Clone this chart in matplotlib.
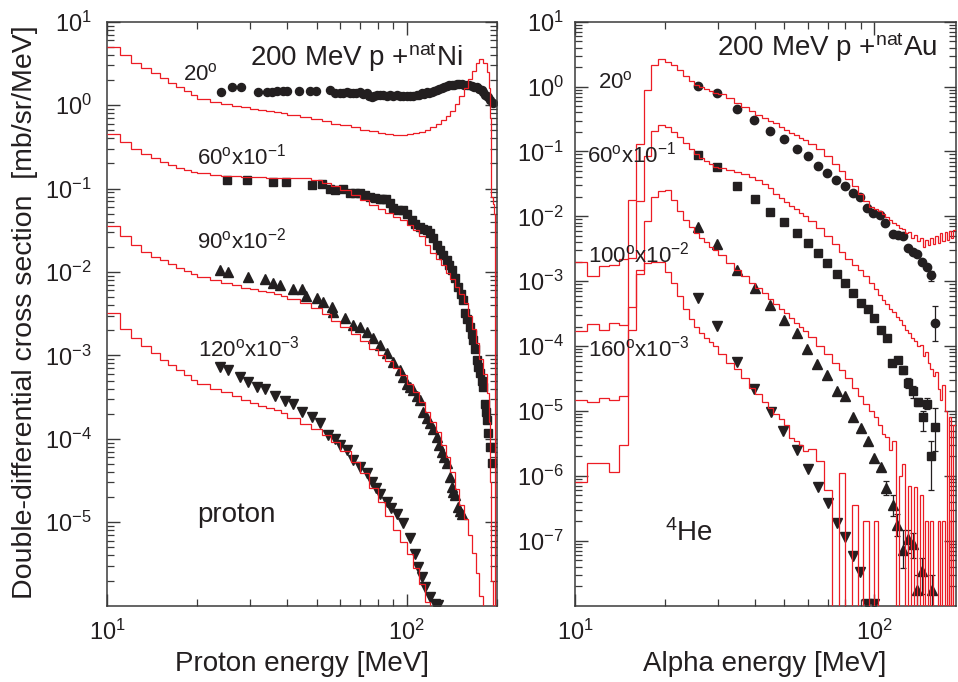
import matplotlib
matplotlib.use("Agg")
import numpy as np
import matplotlib.pyplot as plt
from matplotlib.ticker import LogLocator, FixedLocator, FixedFormatter, NullFormatter

RED = "#ec1c24"
INK = "#231f20"
AXC = "#3a3a3a"
plt.rcParams.update({
    "font.family": ["Liberation Sans", "DejaVu Sans"],
    "mathtext.fontset": "custom",
    "mathtext.rm": "Liberation Sans",
    "mathtext.it": "Liberation Sans:italic",
    "mathtext.bf": "Liberation Sans:bold",
    "text.color": INK,
    "axes.edgecolor": AXC,
    "axes.linewidth": 1.1,
    "xtick.color": AXC,
    "ytick.color": AXC,
    "xtick.labelcolor": INK,
    "ytick.labelcolor": INK,
})

# ---------------- left panel: 200 MeV p + natNi, protons ----------------
edges_left = [10, 11, 12, 13, 14, 15, 16, 17, 18, 19, 20, 22, 24, 26, 28, 30, 32, 34, 36, 38, 40,
              44, 48, 52, 56, 60, 65, 70, 75, 80, 85, 90, 95, 100, 105, 110, 115, 120, 125, 130,
              135, 140, 145, 150, 155, 160, 165, 170, 175, 180, 185, 188, 190, 192, 194, 196, 198, 200]

calc_p20 = [5.0, 4.0, 3.2, 2.75, 2.4, 2.1, 1.85, 1.65, 1.48, 1.33,
            1.17, 1.09, 1.03, 0.98, 0.94, 0.91, 0.88, 0.85, 0.82, 0.8,
            0.77, 0.73, 0.69, 0.64, 0.6,
            0.57, 0.54, 0.51, 0.485, 0.465, 0.45, 0.44, 0.437, 0.445, 0.46, 0.48, 0.51, 0.55, 0.6,
            0.66, 0.74, 0.86, 1.03, 1.28, 1.62, 2.05, 2.6, 3.2, 3.55, 3.2,
            2.5, 1.6, 0.7, 0.08, 0.065, 0.05, 1e-9]
calc_p60 = [0.45, 0.36, 0.3, 0.26, 0.23, 0.21, 0.19, 0.178, 0.168, 0.16,
            0.153, 0.147, 0.143, 0.14, 0.138, 0.137, 0.136, 0.135, 0.135, 0.135,
            0.134, 0.132, 0.127, 0.117, 0.106,
            0.096, 0.084, 0.073, 0.064, 0.057, 0.051, 0.046, 0.042, 0.037, 0.032, 0.027, 0.021,
            0.017, 0.0145, 0.012, 0.0098, 0.0083, 0.0066, 0.0054, 0.0042, 0.003, 0.0021, 0.0014,
            9e-4, 6e-4,
            3.5e-4, 1.6e-4, 3e-5, 2e-6, 1e-9, 1e-9, 1e-9]
calc_p90 = [0.036, 0.027, 0.021, 0.0175, 0.0152, 0.0138, 0.0125, 0.0113, 0.0103, 0.0095,
            0.0087, 0.008, 0.0074, 0.0069, 0.0065, 0.0062, 0.0059, 0.0057, 0.0054, 0.0051,
            0.0047, 0.0043, 0.0037, 0.0031, 0.0026,
            0.0022, 0.0018, 0.0015, 0.0012, 0.001, 8.5e-4, 7e-4, 5.8e-4, 4.6e-4, 3.6e-4, 2.8e-4,
            2.1e-4, 1.6e-4, 1.2e-4, 8.5e-5, 6e-5, 4e-5, 2.5e-5, 1.6e-5, 1.1e-5, 7e-6, 4.3e-6,
            2.5e-6, 1.3e-6, 1e-9,
            1e-9, 1e-9, 1e-9, 1e-9, 1e-9, 1e-9, 1e-9]
calc_p120 = [0.0032, 0.0021, 0.0016, 0.00128, 0.00106, 8.8e-4, 7.6e-4, 6.6e-4, 5.8e-4, 5.1e-4,
             4.5e-4, 4e-4, 3.6e-4, 3.25e-4, 2.95e-4, 2.7e-4, 2.5e-4, 2.35e-4, 2.2e-4, 2.05e-4,
             1.8e-4, 1.52e-4, 1.3e-4, 1.1e-4, 9.2e-5,
             7.2e-5, 5.3e-5, 3.9e-5, 2.6e-5, 1.75e-5, 1.2e-5, 8e-6, 5.8e-6, 4.2e-6, 2.8e-6, 1.8e-6,
             1.1e-6, 1e-9, 1e-9, 1e-9, 1e-9, 1e-9, 1e-9, 1e-9, 1e-9, 1e-9, 1e-9, 1e-9, 1e-9, 1e-9,
             1e-9, 1e-9, 1e-9, 1e-9, 1e-9, 1e-9, 1e-9]

exp_p20_e = [23.9, 26.2, 27.9, 31.9, 34.1, 35.4, 37.0, 38.5, 39.9, 43.8, 47.5, 49.8, 55.4, 57.6,
             59.9, 61.5, 63.0, 64.6, 66.3, 68.0, 69.8, 71.6, 73.5, 75.0, 76.4, 78.0, 79.4, 81.5,
             83.6, 85.7, 87.9, 90.2, 92.6, 95.0, 97.4, 100.0, 102.6, 105.3, 108.0, 110.0, 112.2,
             114.4, 116.6, 118.9, 121.2, 123.5, 125.9, 128.4, 130.9, 133.4, 136.0, 138.6, 141.3,
             144.0, 146.9, 149.7, 152.6, 155.6, 158.6, 161.7, 164.8, 168.0, 171.3, 174.7, 178.0,
             180.3, 182.6, 185.0, 187.3, 190.5, 193.7]
exp_p20_v = [1.45, 1.66, 1.63, 1.45, 1.45, 1.45, 1.48, 1.48, 1.48, 1.48, 1.48, 1.49, 1.52, 1.41,
             1.38, 1.40, 1.42, 1.40, 1.38, 1.40, 1.42, 1.36, 1.38, 1.30, 1.26, 1.30, 1.32, 1.31,
             1.32, 1.30, 1.32, 1.30, 1.32, 1.30, 1.30, 1.29, 1.29, 1.30, 1.32, 1.33, 1.38,
             1.36, 1.42, 1.40, 1.45, 1.48, 1.52, 1.55, 1.59, 1.63, 1.69, 1.72, 1.74,
             1.76, 1.79, 1.78, 1.77, 1.76, 1.74, 1.72, 1.69, 1.66, 1.63, 1.56, 1.5,
             1.42, 1.32, 1.28, 1.24, 1.15, 1.07]

exp_p60_e = [25.05, 29.2, 35.8, 39.5, 48.2, 52.0, 55.5, 57.6, 61.4, 64.7, 67.0, 69.8, 72.5, 75.4,
             78.4, 81.4, 83.0, 85.3, 87.8, 90.2, 93.5, 97.4, 100.5, 103.9, 107.0, 110.8, 113.5,
             116.7, 119.6, 122.7, 126.0, 129.2, 132.5, 136.0, 138.6, 141.3, 145.0, 148.7, 151.5,
             154.5, 156.5, 159.5, 162.7, 164.8, 166.9, 169.0, 171.3, 173.5, 175.7, 178.0, 180.3,
             182.6, 183.8, 185.0, 187.3, 189.5, 192.3]
exp_p60_v = [0.126, 0.126, 0.121, 0.121, 0.110, 0.112, 0.1, 0.096, 0.1, 0.0875, 0.088, 0.0875,
             0.083, 0.0798, 0.077, 0.0742, 0.075, 0.076, 0.068, 0.058, 0.056, 0.0553, 0.05, 0.0419,
             0.038, 0.0348, 0.033, 0.0318, 0.029, 0.0252, 0.021, 0.0183, 0.016, 0.0139, 0.012,
             0.0105, 0.0085, 0.00665, 0.0055, 0.0046, 0.00319, 0.0027, 0.0022, 0.0018, 0.00153,
             0.0012, 8.8e-4, 7.2e-4, 6.1e-4, 5e-4, 4.2e-4, 2.65e-4, 2.1e-4, 1.67e-4, 1.16e-4,
             8e-5, 5.1e-5]

exp_p90_e = [23.8, 25.4, 29.6, 33.6, 35.8, 37.9, 41.8, 44.6, 46.1, 50.1, 52.7, 56.2, 56.9, 62.2,
             66.3, 69.8, 73.5, 77.4, 81.4, 85.8, 90.2, 95.0, 97.5, 100.0, 102.6, 105.2, 108.0,
             110.8, 113.6, 116.6, 119.6, 122.7, 126.0, 128.4, 130.9, 133.4, 136.0, 139.5, 141.3,
             143.1, 145.0, 148.7, 150.7, 152.7]
exp_p90_v = [0.0107, 0.01, 0.00875, 0.00815, 0.0073, 0.00697, 0.00618, 0.00618, 0.00514, 0.00482,
             0.0044, 0.00383, 0.00333, 0.00278, 0.00231, 0.0022, 0.00192, 0.0016, 0.00133,
             0.00106, 8.4e-4, 6.7e-4, 5.5e-4, 4.6e-4, 4.2e-4, 3.8e-4, 3.3e-4, 2.9e-4, 2.1e-4,
             1.8e-4, 1.53e-4, 1.3e-4, 1.06e-4, 8.5e-5, 7e-5, 6e-5, 5.1e-5, 3.5e-5, 2.65e-5,
             2.3e-5, 2.1e-5, 1.53e-5, 1.35e-5, 1.27e-5]

exp_p120_e = [23.8, 25.4, 27.7, 29.6, 31.55, 33.6, 36.3, 39.2, 41.8, 44.6, 48.2, 51.3, 54.7, 57.6,
              59.9, 63.0, 66.3, 69.8, 73.5, 76.4, 78.8, 81.4, 85.8, 88.9, 92.6, 97.4, 102.6, 106.6,
              109.3, 112.2, 115.1, 119.6, 124.3, 127.5]
exp_p120_v = [7.3e-4, 6.7e-4, 5.5e-4, 4.8e-4, 4.2e-4, 4.0e-4, 3.3e-4, 2.85e-4, 2.65e-4, 2.1e-4,
              1.84e-4, 1.53e-4, 1.1e-4, 1.0e-4, 8.4e-5, 7.3e-5, 5.6e-5, 4.6e-5, 3.85e-5, 3.05e-5,
              2.6e-5, 2.2e-5, 1.76e-5, 1.5e-5, 1.27e-5, 9.7e-6, 6.4e-6, 4.2e-6, 2.9e-6, 2.2e-6,
              1.68e-6, 1.27e-6, 1.06e-6, 1.02e-6]

# ---------------- right panel: 200 MeV p + natAu, alphas ----------------
edges_right = ([10, 11, 12, 13, 14, 15, 16, 17, 18, 19, 20, 21, 22, 23, 24, 25, 26, 27, 28, 29, 30,
                32, 34, 36, 38, 40, 42, 44, 46, 48, 50, 52, 54, 56, 58, 60,
                64, 68, 72, 76, 80, 84, 88, 92, 96, 100,
                103, 106, 109, 112, 115, 118, 121, 124, 127, 130, 133, 136, 139, 142, 145, 148,
                151, 154, 157, 160, 163, 166, 169, 172, 175, 178, 181, 184, 187])

calc_a20 = [0.002, 0.0012, 0.0017, 0.0018, 0.0022, 0.018, 0.13, 0.89, 2.15, 2.64,
            2.42, 2.15, 1.8, 1.45, 1.2, 1.05, 0.97, 0.91, 0.86, 0.81,
            0.76, 0.66, 0.56, 0.48, 0.42, 0.37, 0.33, 0.3, 0.27, 0.24, 0.215, 0.195, 0.178, 0.162,
            0.15,
            0.13, 0.11, 0.085, 0.065, 0.05, 0.038, 0.029, 0.022, 0.017, 0.014,
            0.0128, 0.0122, 0.0108, 0.0098, 0.0088, 0.0078, 0.0074, 0.0066, 0.0063, 0.0056, 0.0058,
            0.0046, 0.0052, 0.0042, 0.0047, 0.0034, 0.0044, 0.0036, 0.0047, 0.0038, 0.005, 0.0039,
            0.0055, 0.0041, 0.0057, 0.0044, 0.006, 0.0046, 0.0062]
calc_a60 = [1.7e-4, 2.2e-4, 1.8e-4, 2.3e-4, 2.1e-4, 0.0023, 0.017, 0.085, 0.21, 0.26,
            0.24, 0.2, 0.165, 0.135, 0.11, 0.092, 0.08, 0.071, 0.064, 0.058,
            0.055, 0.051, 0.048, 0.045, 0.041, 0.036, 0.031, 0.027, 0.022, 0.019, 0.0165, 0.0145,
            0.0128, 0.0112, 0.01,
            0.0085, 0.0066, 0.005, 0.0037, 0.0028, 0.0022, 0.0018, 0.0015, 0.0012, 9.5e-4,
            7.5e-4, 6.2e-4, 5.2e-4, 4.4e-4, 3.8e-4, 3.3e-4, 2.8e-4, 2.5e-4, 2.1e-4, 1.8e-4, 1.6e-4,
            1.35e-4, 1.2e-4, 1.0e-4, 1.05e-4, 7e-5, 8e-5, 5.5e-5, 4.5e-5, 3.5e-5, 4e-5, 2.2e-5,
            1.5e-5, 2.5e-5, 1e-5, 1e-12, 8e-6, 1e-12, 6e-6]
calc_a100 = [1.5e-5, 1.4e-5, 1.6e-5, 1.5e-5, 1.7e-5, 1.8e-4, 0.0013, 0.0085, 0.02, 0.025,
             0.0255, 0.018, 0.012, 0.0088, 0.0068, 0.0056, 0.0047, 0.004, 0.0034, 0.003,
             0.0025, 0.0019, 0.0015, 0.0012, 9.5e-4, 8e-4, 6.5e-4, 5.4e-4, 4.5e-4, 3.8e-4, 3.2e-4,
             2.7e-4, 2.3e-4, 2e-4, 1.7e-4,
             1.4e-4, 1.0e-4, 7.5e-5, 5.5e-5, 4.3e-5, 3.2e-5, 2.3e-5, 1.7e-5, 1.3e-5, 1.0e-5,
             8e-6, 6e-6, 4.5e-6, 4e-6, 2.5e-6, 3.4e-6, 1e-12, 1e-6, 1.5e-6, 1e-12, 7e-7, 1e-12,
             6.8e-7, 1e-12, 5e-7, 1e-12, 2e-7, 1e-12, 2e-7, 1e-12, 1e-12, 2e-7, 1e-12, 2e-7, 1e-12,
             1e-12, 2e-7, 1e-12, 1e-12]
calc_a160 = [8e-7, 1.6e-6, 1.6e-6, 1.15e-6, 3e-6, 4e-4, 0.0015, 0.0019, 0.002, 0.002,
             0.0014, 9.5e-4, 6e-4, 3.8e-4, 2.6e-4, 2e-4, 1.6e-4, 1.35e-4, 1.15e-4, 1.0e-4,
             7.5e-5, 5.5e-5, 4.5e-5, 3.2e-5, 2.3e-5, 1.8e-5, 1.4e-5, 1.1e-5, 9e-6, 7.5e-6, 6e-6,
             3.8e-6, 3.4e-6, 3e-6, 2.4e-6,
             2.6e-6, 1.7e-6, 6e-7, 1e-12, 1.1e-6, 1e-12, 3.6e-7, 1e-12, 2e-7, 1e-12,
             2e-7, 1e-12, 1e-12, 1e-12, 1e-12, 1e-12, 1e-12, 1e-12, 1e-12, 1e-12, 1e-12, 1e-12,
             1e-12, 1e-12, 1e-12, 1e-12, 1e-12, 1e-12, 1e-12, 1e-12, 1e-12, 1e-12, 1e-12, 1e-12,
             1e-12, 1e-12, 1e-12, 1e-12, 1e-12]

exp_a20_e = [25.8, 29.9, 34.8, 39.6, 44.8, 49.9, 55.1, 59.9, 64.7, 69.7, 74.5, 79.8, 84.7, 89.5,
             94.3, 99.2, 104.5, 108.6, 115.2, 120.3, 124.4, 129.9, 134.4, 139.2, 144.0, 149.6,
             154.3, 159.5]
exp_a20_v = [1.02, 0.805, 0.447, 0.305, 0.209, 0.154, 0.109, 0.085, 0.0598, 0.0461, 0.0364,
             0.0297, 0.0227, 0.0197, 0.0133, 0.0112, 0.0105, 0.0078, 0.0054, 0.0052, 0.0049,
             0.0032, 0.00286, 0.00263, 0.002, 0.00164, 0.00125, 2.3e-4]
err_a20_e = [154.3, 159.5]
err_a20_lo = [1.0e-3, 1.2e-4]
err_a20_hi = [1.45e-3, 4.1e-4]

exp_a60_e = [25.8, 29.9, 34.8, 39.9, 44.8, 49.9, 55.1, 60.2, 64.7, 69.7, 74.9, 80.0, 85.1, 90.1,
             95.1, 99.8, 105.1, 110.0, 114.9, 119.7, 124.4, 129.9, 135.0, 140.3, 145.1, 150.4,
             154.3, 159.8]
exp_a60_v = [0.0883, 0.057, 0.0297, 0.0183, 0.0118, 0.0081, 0.0056, 0.00385, 0.0027, 0.00194,
             0.0013, 9.5e-4, 6.5e-4, 4.7e-4, 3.7e-4, 2.7e-4, 1.78e-4, 1.32e-4, 5.5e-5, 6.1e-5,
             4.3e-5, 2.7e-5, 2.0e-5, 1.4e-5, 8.2e-6, 1.29e-5, 2.0e-6, 5.6e-6]
err_a60_e = [124.4, 129.9, 135.0, 140.3, 145.1, 150.4, 154.3, 159.8]
err_a60_lo = [3.7e-5, 2.3e-5, 1.57e-5, 1.2e-5, 5e-6, 1.07e-5, 6e-7, 2.4e-6]
err_a60_hi = [5e-5, 3.2e-5, 2.4e-5, 1.6e-5, 1.0e-5, 1.6e-5, 3.4e-6, 1.1e-5]

exp_a100_e = [25.8, 29.9, 34.8, 39.9, 44.8, 49.9, 55.1, 59.7, 64.6, 69.7, 74.9, 79.7, 85.1, 90.2,
              95.1, 99.8, 105.1, 109.4, 115.2, 119.4, 125.0, 129.9, 135.0, 139.2, 144.3, 155.6]
exp_a100_v = [0.00693, 0.00376, 0.00148, 7.8e-4, 4.3e-4, 2.54e-4, 1.6e-4, 9e-5, 5.3e-5, 3.6e-5,
              2.0e-5, 1.7e-5, 8e-6, 5.4e-6, 3.4e-6, 1.88e-6, 1.39e-6, 6.5e-7, 3.6e-7, 1.76e-7,
              7.2e-8, 1.07e-7, 9e-8, 1.75e-8, 3.4e-8, 1.75e-8]
err_a100_e = [109.4, 115.2, 119.4, 125.0, 129.9, 135.0, 139.2, 144.3, 155.6]
err_a100_lo = [5e-7, 2.4e-7, 1.2e-7, 3.8e-8, 6.6e-8, 5.5e-8, 1e-9, 1.5e-8, 1e-9]
err_a100_hi = [8.5e-7, 5.1e-7, 2.6e-7, 1.47e-7, 1.47e-7, 1.3e-7, 3e-8, 5.5e-8, 3e-8]

exp_a160_e = [25.8, 29.9, 34.8, 39.6, 45.1, 49.7, 55.0, 60.1, 64.9, 70.0, 74.9, 79.7, 85.1, 89.7,
              94.9, 99.5]
exp_a160_v = [5.5e-4, 2.05e-4, 5.6e-5, 2.17e-5, 9.8e-6, 4.9e-6, 2.5e-6, 1.29e-6, 6.8e-7, 3.8e-7,
              1.89e-7, 1.14e-7, 5.9e-8, 3.3e-8, 1.08e-8, 1.05e-8]

W, H = 958, 682
fig = plt.figure(figsize=(W / 100, H / 100), dpi=100)
axL = fig.add_axes([107.3 / W, 1 - 605.7 / H, 389.4 / W, 584 / H])
axR = fig.add_axes([575 / W, 1 - 605.7 / H, 380.6 / W, 584 / H])


def style_axis(ax, xmax, ymin, ypad):
    ax.set_xscale("log")
    ax.set_yscale("log")
    ax.set_xlim(10, xmax)
    decs = np.arange(int(np.log10(ymin)) + 1, 2)
    ax.set_ylim(ymin, 10)
    ax.yaxis.set_major_locator(FixedLocator([10.0 ** k for k in decs]))
    ax.yaxis.set_major_formatter(FixedFormatter([r"$\mathdefault{10^{%d}}$" % k for k in decs]))
    ax.yaxis.set_minor_locator(LogLocator(base=10, subs=np.arange(2, 10), numticks=20))
    ax.yaxis.set_minor_formatter(NullFormatter())
    ax.xaxis.set_major_locator(FixedLocator([10, 100]))
    ax.xaxis.set_major_formatter(FixedFormatter([r"$\mathdefault{10^{1}}$", r"$\mathdefault{10^{2}}$"]))
    ax.xaxis.set_minor_locator(LogLocator(base=10, subs=np.arange(2, 10), numticks=20))
    ax.xaxis.set_minor_formatter(NullFormatter())
    ax.tick_params(which="both", direction="in", top=True, right=True, labelsize=17)
    ax.tick_params(which="major", length=9, width=1.0)
    ax.tick_params(which="minor", length=5, width=0.9)
    ax.tick_params(axis="y", pad=ypad)
    ax.tick_params(axis="x", pad=10)


style_axis(axL, 200, 1e-6, 11)
style_axis(axR, 187, 1e-8, 8)

mk = dict(color=INK, linestyle="none", zorder=2, clip_on=True)
for vals in (calc_p20, calc_p60, calc_p90, calc_p120):
    axL.stairs(vals, edges_left, color=RED, lw=0.9, baseline=None, zorder=3)
axL.plot(exp_p20_e, exp_p20_v, marker="o", ms=5.8, **mk)
axL.plot(exp_p60_e, exp_p60_v, marker="s", ms=5.2, **mk)
axL.plot(exp_p90_e, exp_p90_v, marker="^", ms=6.6, **mk)
axL.plot(exp_p120_e, exp_p120_v, marker="v", ms=6.6, **mk)

for vals in (calc_a20, calc_a60, calc_a100, calc_a160):
    axR.stairs(vals, edges_right, color=RED, lw=0.9, baseline=None, zorder=3)
axR.plot(exp_a20_e, exp_a20_v, marker="o", ms=6.0, **mk)
axR.plot(exp_a60_e, exp_a60_v, marker="s", ms=5.6, **mk)
axR.plot(exp_a100_e, exp_a100_v, marker="^", ms=6.8, **mk)
axR.plot(exp_a160_e, exp_a160_v, marker="v", ms=6.8, **mk)

for e_list, lo, hi, e_all, v_all in ((err_a20_e, err_a20_lo, err_a20_hi, exp_a20_e, exp_a20_v),
                                     (err_a60_e, err_a60_lo, err_a60_hi, exp_a60_e, exp_a60_v),
                                     (err_a100_e, err_a100_lo, err_a100_hi, exp_a100_e, exp_a100_v)):
    v = np.array([v_all[e_all.index(e)] for e in e_list])
    axR.errorbar(e_list, v, yerr=[v - np.array(lo), np.array(hi) - v], fmt="none",
                 ecolor=INK, elinewidth=0.9, capsize=2.5, capthick=0.9, zorder=2)


def label(x, y, s, size=16):
    fig.text(x / W, 1 - y / H, s, fontsize=size, ha="left", va="baseline", color=INK)


label(250, 66, r"200 MeV p +$^{\mathrm{nat}}$Ni", 20)
label(183, 80, r"20$^{\mathrm{o}}$")
label(197, 165, r"60$^{\mathrm{o}}$x10$^{-1}$")
label(197, 248, r"90$^{\mathrm{o}}$x10$^{-2}$")
label(198, 356, r"120$^{\mathrm{o}}$x10$^{-3}$")
label(197, 522, "proton", 20)

label(717, 56, r"200 MeV p +$^{\mathrm{nat}}$Au", 20)
label(598, 88, r"20$^{\mathrm{o}}$")
label(587, 162, r"60$^{\mathrm{o}}$x10$^{-1}$")
label(588, 262, r"100$^{\mathrm{o}}$x10$^{-2}$")
label(588, 356, r"160$^{\mathrm{o}}$x10$^{-3}$")
label(665, 541, r"$^{4}$He", 20)

fig.text(302 / W, 1 - 664 / H, "Proton energy [MeV]", fontsize=20, ha="center", va="center")
fig.text(765 / W, 1 - 664 / H, "Alpha energy [MeV]", fontsize=20, ha="center", va="center")
fig.text(25 / W, 1 - 312 / H, "Double-differential cross section  [mb/sr/MeV]", fontsize=20.5,
         ha="center", va="center", rotation=90)

fig.savefig("out.png", dpi=100)
